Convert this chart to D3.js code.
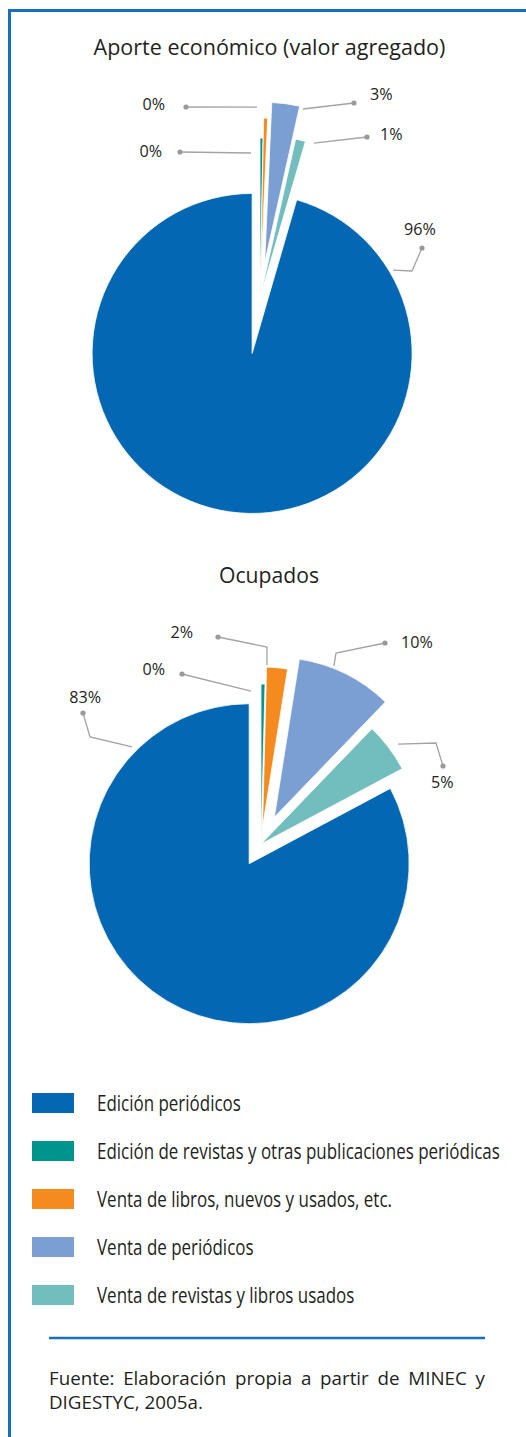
<!DOCTYPE html>
<html>
<head>
<meta charset="utf-8">
<script src="https://cdn.jsdelivr.net/npm/d3@7"></script>
<style>
  html, body { margin: 0; padding: 0; background: #fff; }
  svg { display: block; }
</style>
</head>
<body>
<svg id="chart" width="526" height="1437"></svg>
<script>
// ---- data ----
const categories = [
  "Edición periódicos",
  "Edición de revistas y otras publicaciones periódicas",
  "Venta de libros, nuevos y usados, etc.",
  "Venta de periódicos",
  "Venta de revistas y libros usados"
];
const valorAgregado = [95.5, 0.3, 0.4, 2.8, 1.0];
const ocupados = [82.8, 0.4, 2.1, 9.7, 5.0];
const chartTitles = ["Aporte económico (valor agregado)", "Ocupados"];
const sourceLines = ["Fuente: Elaboración propia a partir de MINEC y", "DIGESTYC, 2005a."];

// ---- style ----
const colors = ["#0467b3", "#00948f", "#f58b1f", "#7b9fd2", "#72bdbd"];
const FONT = "'Open Sans', 'Noto Sans', sans-serif";
const TEXT = "#231f20";
const FRAME = "#1570bf";
const LEADER = "#a3a3a3";
const R = 160;

// pie layout: centre, per-slice explosion (px, along bisector) and label placement
const pies = [
  {
    values: valorAgregado, title: chartTitles[0], titleX: 269.5, titleY: 55, titleW: 352,
    cx: 260, cy: 298,
    explode: [56, 0, 20, 36, 3],
    labels: [
      { start: [59.4, 163.7], elbow: [152, -27], dot: [162, -50], text: [160, -63], anchor: "middle" },
      { start: [-3.55, 145.3], dot: [-80, -146], text: [-98, -141], anchor: "end" },
      { start: [-1.2, 171], dot: [-74, -191], text: [-95, -188], anchor: "end" },
      { start: [14, 158], dot: [94, -195], text: [110, -198], anchor: "start" },
      { start: [19.3, 161], dot: [107, -161], text: [120, -158], anchor: "start" }
    ]
  },
  {
    values: ocupados, title: chartTitles[1], titleX: 269, titleY: 583, titleW: 100,
    cx: 261, cy: 844,
    explode: [23, 0, 17, 30, 0],
    labels: [
      { start: [314.9, 165.4], elbow: [-171, -107], dot: [-178, -131], text: [-160, -141], anchor: "end" },
      { start: [-3.74, 153.3], dot: [-79, -170], text: [-96, -169], anchor: "end" },
      { start: [1.57, 162.1], elbow: [6, -197], dot: [-43, -207], text: [-68, -206], anchor: "end" },
      { start: [21.5, 162.5], elbow: [75, -191], dot: [124, -201], text: [140, -196], anchor: "start" },
      { start: [53.9, 169.6], elbow: [175, -101], dot: [182, -78], text: [170, -56], anchor: "start" }
    ]
  }
];

const svg = d3.select("#chart");
const rad = d => d * Math.PI / 180;
const polar = (a, r) => [r * Math.sin(a), -r * Math.cos(a)];

// text drawn at the origin of its own transform, squeezed horizontally by k
function placeText(parent, str, x, y, size, k, anchor) {
  const t = parent.append("text")
    .attr("font-family", FONT)
    .attr("font-size", size)
    .attr("fill", TEXT)
    .attr("text-anchor", anchor || "start")
    .text(str);
  t.attr("transform", `translate(${x},${y}) scale(${k},1)`);
  return t;
}
function measure(str, size) {
  const t = svg.append("text").attr("font-family", FONT).attr("font-size", size).text(str);
  const w = t.node().getComputedTextLength();
  t.remove();
  return w;
}

// outer frame (continues past the right and bottom edges)
svg.append("path")
  .attr("d", "M9.5,1437 V10.5 H526")
  .attr("fill", "none")
  .attr("stroke", FRAME)
  .attr("stroke-width", 3);

const arc = d3.arc().innerRadius(0).outerRadius(R);
const fmt = v => d3.format(".0f")(v) + "%";

pies.forEach(p => {
  const total = d3.sum(p.values);
  const rot = 2 * Math.PI * (1 - p.values[0] / total);
  const arcs = d3.pie().sort(null).value(d => d)
    .startAngle(rot).endAngle(rot + 2 * Math.PI)(p.values);

  // title
  const tk = p.titleW / measure(p.title, 22);
  placeText(svg, p.title, p.titleX, p.titleY, 22, tk, "middle");

  const g = svg.append("g").attr("transform", `translate(${p.cx},${p.cy})`);

  const offsets = arcs.map((a, i) => {
    const mid = (a.startAngle + a.endAngle) / 2;
    return polar(mid, p.explode[i]);
  });

  g.selectAll("path.slice")
    .data(arcs)
    .join("path")
    .attr("class", "slice")
    .attr("transform", (d, i) => `translate(${offsets[i][0]},${offsets[i][1]})`)
    .attr("d", arc)
    .attr("fill", (d, i) => colors[i])
    .attr("stroke", "#fff")
    .attr("stroke-width", 0.8);

  // leader lines and value labels
  p.labels.forEach((lb, i) => {
    const s = polar(rad(lb.start[0]), lb.start[1]);
    const pts = [[s[0] + offsets[i][0], s[1] + offsets[i][1]]];
    if (lb.elbow) pts.push(lb.elbow);
    pts.push(lb.dot);
    g.append("path")
      .attr("d", d3.line()(pts))
      .attr("fill", "none")
      .attr("stroke", LEADER)
      .attr("stroke-width", 1.3);
    g.append("circle")
      .attr("cx", lb.dot[0]).attr("cy", lb.dot[1])
      .attr("r", 2.6)
      .attr("fill", "#999");
    placeText(g, fmt(p.values[i]), lb.text[0], lb.text[1], 17, 0.95, lb.anchor);
  });
});

// ---- legend ----
const legendTop = 1111, legendStep = 48, legendTextX = 97, longestW = 403, legendSize = 21;
const legend = svg.append("g");
const lk = longestW / d3.max(categories, c => measure(c, legendSize));
categories.forEach((c, i) => {
  const y = legendTop + i * legendStep;
  legend.append("rect")
    .attr("x", 32).attr("y", y - 18)
    .attr("width", 42).attr("height", 20)
    .attr("fill", colors[i]);
  placeText(legend, c, legendTextX, y, legendSize, lk);
});

// ---- separator and source note ----
svg.append("line")
  .attr("x1", 49).attr("x2", 485)
  .attr("y1", 1338).attr("y2", 1338)
  .attr("stroke", FRAME)
  .attr("stroke-width", 2.5);

const srcSize = 19, srcLeft = 49, srcRight = 485;
const srcG = svg.append("g");

// second line sets the glyph scale
const ks = 154 / measure(sourceLines[1], srcSize);
placeText(srcG, sourceLines[1], srcLeft, 1409, srcSize, ks);

// first line is justified across the full measure
const words = sourceLines[0].split(" ");
const wW = words.map(w => measure(w, srcSize) * ks);
const gap = (srcRight - srcLeft - d3.sum(wW)) / (words.length - 1);
let xPos = srcLeft;
words.forEach((w, i) => {
  placeText(srcG, w, xPos, 1385, srcSize, ks);
  xPos += wW[i] + gap;
});
</script>
</body>
</html>
